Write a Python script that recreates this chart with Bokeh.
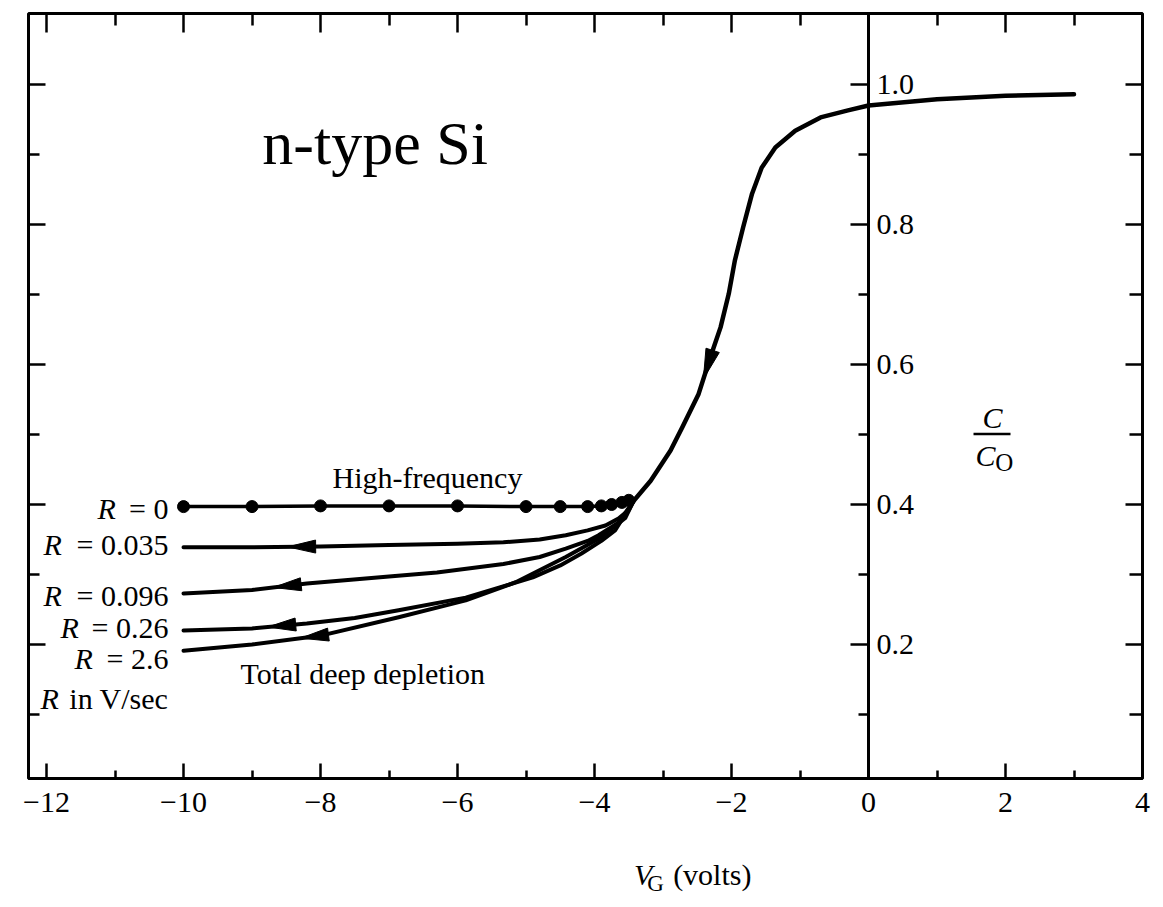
import numpy as np
from bokeh.plotting import figure
from bokeh.layouts import column
from bokeh.models import LinearAxis, FixedTicker, Range1d
from bokeh.embed import file_html
from bokeh.resources import INLINE
from bokeh.core.properties import value

# ---------------- data ----------------
x_major_ticks = [-12, -10, -8, -6, -4, -2, 0, 2, 4]
x_tick_labels = ["−12", "−10", "−8", "−6", "−4", "−2", "0", "2", "4"]
x_minor_ticks = [-11, -9, -7, -5, -3, -1, 1, 3]
y_major_ticks = [0.2, 0.4, 0.6, 0.8, 1.0]
y_tick_labels = ["0.2", "0.4", "0.6", "0.8", "1.0"]
y_minor_ticks = [0.1, 0.3, 0.5, 0.7, 0.9]

# descending sweep from accumulation (common part)
sweep_v = [3.0, 2.0, 1.0, 0.0, -0.3, -0.7, -1.07, -1.36, -1.56, -1.70, -1.83, -1.95,
           -2.04, -2.16, -2.31, -2.48, -2.72, -2.89, -3.18, -3.43]
sweep_c = [0.986, 0.984, 0.979, 0.970, 0.963, 0.953, 0.934, 0.910, 0.881, 0.844, 0.796,
           0.749, 0.701, 0.653, 0.610, 0.558, 0.510, 0.477, 0.434, 0.405]

# R = 0 (high-frequency) with measured points
hf_v = [-10, -9, -8, -7, -6, -5, -4.5, -4.1, -3.9, -3.75, -3.6, -3.5]
hf_c = [0.397, 0.397, 0.398, 0.398, 0.398, 0.397, 0.397, 0.397, 0.398, 0.400, 0.403, 0.406]

r035_v = [-10, -9, -8, -7, -6, -5.33, -4.8, -4.42, -4.1, -3.84, -3.65, -3.5]
r035_c = [0.339, 0.339, 0.340, 0.342, 0.344, 0.346, 0.350, 0.356, 0.363, 0.370, 0.380, 0.392]

r096_v = [-10, -9, -8.2, -7, -6.3, -5.33, -4.8, -4.42, -4.1, -3.94, -3.65]
r096_c = [0.273, 0.278, 0.287, 0.297, 0.303, 0.315, 0.325, 0.337, 0.348, 0.356, 0.374]

r026_v = [-10, -9, -8.2, -7.5, -6.86, -5.88, -4.9, -4.5, -4.19, -3.9, -3.7]
r026_c = [0.220, 0.223, 0.230, 0.238, 0.249, 0.267, 0.296, 0.313, 0.330, 0.348, 0.363]

r26_v = [-10, -9, -7.98, -6.86, -5.88, -5.15, -4.42, -3.94, -3.55]
r26_c = [0.191, 0.200, 0.213, 0.239, 0.263, 0.289, 0.325, 0.351, 0.381]

rate_texts = ["= 0", "= 0.035", "= 0.096", "= 0.26", "= 2.6", "in V/sec"]

# arrow tip positions (gate voltage) on each swept curve
arrow_v_035, arrow_v_096, arrow_v_026, arrow_v_26, arrow_v_sweep = -8.48, -8.69, -8.77, -8.29, -2.41

# ---------------- layout ----------------
W, H = 1163, 907
H2 = 62                      # strip below for the axis title
H1 = H - H2
BL, BR, BT = 28, 21, 13
FRAME_BOTTOM = 778
BB = H1 - FRAME_BOTTOM
X0, X1 = -12.263, 4.0
Y0, Y1 = 0.0086, 1.1014
FW, FH = W - BL - BR, H1 - BT - BB
SX = FW / (X1 - X0)   # px per volt
SY = FH / (Y1 - Y0)   # px per unit C/Co
SERIF = "Liberation Serif"
BASE_SHIFT = 0.33     # rendered baseline sits this many em below y


def by(yb, size):
    """data y so that the text baseline lands at yb"""
    return yb + BASE_SHIFT * size / SY


p = figure(width=W, height=H1, x_range=Range1d(X0, X1), y_range=Range1d(Y0, Y1),
           x_axis_location=None, y_axis_location=None, toolbar_location=None,
           output_backend="svg", min_border_left=BL, min_border_right=BR,
           min_border_top=BT, min_border_bottom=BB,
           background_fill_color="white", border_fill_color="white",
           outline_line_color="black", outline_line_width=3)
p.grid.grid_line_color = None

# bottom axis with labels
bx = LinearAxis(ticker=FixedTicker(ticks=x_major_ticks, minor_ticks=x_minor_ticks),
                major_label_overrides=dict(zip(x_major_ticks, x_tick_labels)),
                major_tick_in=15, major_tick_out=0, minor_tick_in=8, minor_tick_out=0,
                axis_line_width=3, major_tick_line_width=2.5, minor_tick_line_width=2.5,
                major_label_standoff=14, major_label_text_font=SERIF,
                major_label_text_font_size="30px", major_label_text_color="black")
p.add_layout(bx, "below")

# central C/Co axis at V = 0
cy = LinearAxis(fixed_location=0, ticker=FixedTicker(ticks=y_major_ticks, minor_ticks=y_minor_ticks),
                major_label_overrides=dict(zip(y_major_ticks, y_tick_labels)),
                major_tick_in=18, major_tick_out=0, minor_tick_in=10, minor_tick_out=0,
                axis_line_width=3, major_tick_line_width=2.5, minor_tick_line_width=2.5,
                major_label_standoff=8, major_label_text_font=SERIF,
                major_label_text_font_size="30px", major_label_text_color="black")
p.add_layout(cy, "right")


def frame_ticks(side, loc, ticks, length):
    ax = LinearAxis(fixed_location=loc, ticker=FixedTicker(ticks=[], minor_ticks=ticks),
                    major_tick_in=0, major_tick_out=0, minor_tick_in=length, minor_tick_out=0,
                    minor_tick_line_width=2.5, minor_tick_line_color="black",
                    axis_line_color=None)
    p.add_layout(ax, side)


frame_ticks("left", X0, y_major_ticks, 17)
frame_ticks("left", X0, y_minor_ticks, 11)
frame_ticks("right", X1, y_major_ticks, 17)
frame_ticks("right", X1, y_minor_ticks, 13)
frame_ticks("above", Y1, x_major_ticks, 19)
frame_ticks("above", Y1, x_minor_ticks, 12)

# ---------------- curves ----------------
jv, jc = sweep_v[-1], sweep_c[-1]
lk = dict(line_color="black", line_cap="round", line_join="round")
p.line(sweep_v, sweep_c, line_width=4.5, **lk)
p.line(hf_v + [jv], hf_c + [jc], line_width=3.5, **lk)
p.scatter(hf_v, hf_c, size=12, marker="circle", color="black")
for cv, cc in [(r035_v, r035_c), (r096_v, r096_c), (r026_v, r026_c), (r26_v, r26_c)]:
    p.line(cv + [jv], cc + [jc], line_width=4, **lk)


def arrow_head(cv, cc, xt, L=28, Wd=13, d=0.25):
    v = np.array(cv, float)
    c = np.array(cc, float)
    o = np.argsort(v)
    v, c = v[o], c[o]
    yt = np.interp(xt, v, c)
    yb = np.interp(xt + d, v, c)
    dx, dy = (xt - (xt + d)) * SX, (yt - yb) * SY
    n = np.hypot(dx, dy)
    ux, uy = dx / n, dy / n
    bx_, by_ = -ux * L, -uy * L
    px_, py_ = -uy * Wd / 2, ux * Wd / 2
    xs = [xt, xt + (bx_ + px_) / SX, xt + (bx_ - px_) / SX]
    ys = [yt, yt + (by_ + py_) / SY, yt + (by_ - py_) / SY]
    return xs, ys


heads = [arrow_head(r035_v + [jv], r035_c + [jc], arrow_v_035),
         arrow_head(r096_v + [jv], r096_c + [jc], arrow_v_096),
         arrow_head(r026_v + [jv], r026_c + [jc], arrow_v_026),
         arrow_head(r26_v + [jv], r26_c + [jc], arrow_v_26),
         arrow_head(sweep_v, sweep_c, arrow_v_sweep, L=30, Wd=14, d=0.12)]
p.patches([h[0] for h in heads], [h[1] for h in heads],
          fill_color="black", line_color="black", line_width=1)

# ---------------- texts ----------------
tk = dict(text_font=value(SERIF), text_baseline="alphabetic", text_color="black")
p.text(x=[-8.85], y=[by(0.887, 62)], text=["n-type Si"], text_font_size="62px",
       text_align="left", **tk)
p.text(x=[-7.825, -9.168], y=[by(0.424, 30), by(0.144, 30)],
       text=["High-frequency", "Total deep depletion"],
       text_font_size="30px", text_align="left", **tk)

rate_base = [0.380, 0.3286, 0.2557, 0.210, 0.1657, 0.1086]
rate_R_x = [-11.255, -12.044, -12.044, -11.796, -11.591, -12.088]
rate_y = [by(b, 30) for b in rate_base]
p.text(x=[-10.22] * len(rate_texts), y=rate_y, text=rate_texts,
       text_font_size="30px", text_align="right", **tk)
p.text(x=rate_R_x, y=rate_y, text=["R"] * len(rate_texts), text_font_size="30px",
       text_align="left", text_font_style="italic", **tk)

# C / Co label
p.text(x=[1.81], y=[by(0.51, 30)], text=["C"], text_font_size="30px", text_align="center",
       text_font_style="italic", **tk)
p.segment(x0=[1.533], y0=[0.5007], x1=[2.073], y1=[0.5007], line_color="black", line_width=2.5)
p.text(x=[1.562], y=[by(0.4557, 30)], text=["C"], text_font_size="30px", text_align="left",
       text_font_style="italic", **tk)
p.text(x=[1.85], y=[by(0.4486, 25)], text=["O"], text_font_size="25px", text_align="left", **tk)

# ---------------- strip with the V_G (volts) title ----------------
q = figure(width=W, height=H2, x_range=Range1d(X0 - BL / SX, X1 + BR / SX),
           y_range=Range1d(0, H2), x_axis_location=None, y_axis_location=None,
           toolbar_location=None, output_backend="svg", min_border=0,
           min_border_left=0, min_border_right=0, min_border_top=0, min_border_bottom=0,
           outline_line_color=None, background_fill_color="white", border_fill_color="white")
q.grid.grid_line_color = None


def qy(page_baseline, size):
    return (H - page_baseline) + BASE_SHIFT * size


q.text(x=[-3.445], y=[qy(884, 30)], text=["V"], text_font_size="30px",
       text_font_style="italic", text_align="left", **tk)
q.text(x=[-3.24], y=[qy(891, 23)], text=["G"], text_font_size="23px", text_align="left", **tk)
q.text(x=[-2.847], y=[qy(884, 30)], text=["(volts)"], text_font_size="30px",
       text_align="left", **tk)

layout = column(p, q, spacing=0)
open("out.html", "w").write(file_html(layout, INLINE))
